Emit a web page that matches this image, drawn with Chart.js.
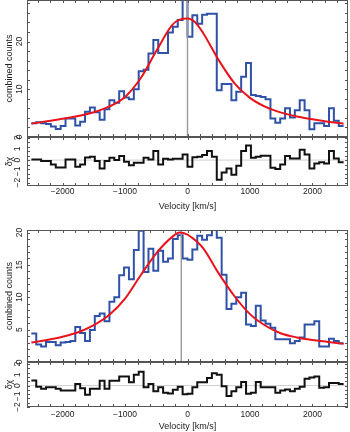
<!DOCTYPE html>
<html>
<head>
<meta charset="utf-8">
<script src="https://cdn.jsdelivr.net/npm/chart.js@4.4.1/dist/chart.umd.min.js"></script>
<style>
    html, body { margin: 0; padding: 0; background: #fff; }
    #wrap { position: relative; width: 350px; height: 432px; overflow: hidden; }
    canvas { position: absolute; left: 0; }
</style>
</head>
<body>
<div id="wrap">
    <canvas id="topMain" width="350" height="145" style="top:0px"></canvas>
    <canvas id="topResid" width="350" height="82" style="top:130px"></canvas>
    <canvas id="bottomMain" width="350" height="143" style="top:226px"></canvas>
    <canvas id="bottomResid" width="350" height="77" style="top:355px"></canvas>
</div>
<script>
// histogram bins: 64 bins from -2500 km/s
const binStart = -2500;
const binWidth = 78.125;
const velMin = -2570;
const velMax = 2570;

const topCounts = [
    2.9, 3.1, 2.9, 2.7, 2.2, 1.7, 2.3, 3.9,
    3.9, 2.4, 3.2, 5.3, 6.2, 5.2, 3.6, 5.8,
    7.7, 7.2, 9.6, 8.3, 7.9, 10.0, 13.8, 14.1,
    17.5, 20.3, 17.6, 17.6, 21.9, 23.1, 24.5, 31.0,
    21.0, 25.5, 23.7, 25.6, 25.8, 25.8, 9.8, 11.1,
    11.1, 7.7, 9.5, 12.6, 15.5, 8.8, 8.6, 8.4,
    7.9, 3.9, 3.0, 3.9, 6.0, 4.1, 5.6, 7.7,
    5.6, 1.6, 2.9, 2.9, 2.3, 6.0, 3.4, 2.3
];
const topResid = [
    0.06, 0.06, -0.09, -0.09, -0.39, -0.65, -0.65, 0.06,
    0.06, -0.6, -0.39, 0.24, 0.3, -0.09, -0.74, -0.09,
    0.21, 0.0, 0.36, -0.15, -0.45, -0.24, -0.24, 0.21,
    0.06, 0.8, -0.39, 0.12, 0.06, 0.12, 0.12, 0.5,
    -0.6, 0.25, 0.3, 0.45, 0.8, 0.3, -1.75, -1.1,
    -0.75, -1.3, -0.5, 0.8, 1.3, 0.21, 0.3, 0.39,
    0.39, -0.68, -0.8, -0.39, 0.36, 0.15, 0.15, 0.92,
    0.5, -0.74, -0.3, -0.2, -0.3, 0.8, 0.15, -0.2
];
const bottomCounts = [
    4.4, 2.7, 2.4, 3.1, 3.1, 2.6, 3.0, 3.1,
    3.25, 5.4, 4.5, 3.25, 4.95, 7.1, 7.5, 6.3,
    9.3, 10.0, 13.4, 14.6, 12.8, 17.3, 20.3, 13.9,
    17.5, 14.1, 17.2, 15.5, 16.0, 19.0, 19.6, 16.0,
    15.8, 17.4, 19.5, 18.9, 19.6, 21.0, 19.2, 13.5,
    8.2, 9.0, 10.0, 10.7, 5.8, 5.55, 8.7, 6.4,
    5.9, 5.3, 3.5, 3.5, 3.5, 2.9, 3.25, 3.8,
    5.8, 5.8, 6.3, 2.4, 2.4, 3.6, 3.25, 2.9
];
const bottomResid = [
    0.48, -0.1, -0.3, -0.15, -0.15, -0.3, -0.45, -0.45,
    -0.45, 0.15, -0.24, -0.85, -0.3, -0.3, 0.45, -0.3,
    0.45, 0.45, 0.85, 0.85, 0.3, 1.0, 1.3, -0.15,
    0.15, -0.52, -0.15, -0.67, -0.73, -0.4, -0.12, -0.82,
    -0.76, -0.15, 0.3, 0.3, 0.7, 1.15, 1.0, -0.06,
    -0.97, -0.52, -0.15, 0.33, -0.76, -0.67, 0.33, -0.15,
    -0.15, -0.15, -0.67, -0.45, -0.36, -0.52, -0.3, -0.12,
    0.64, 0.76, 0.85, -0.21, -0.15, 0.24, 0.24, 0.15
];

const modelVel = [-2500, -2250, -2000, -1750, -1500, -1250, -1000, -750, -500, -250, -125, 0,
                  125, 250, 500, 750, 1000, 1250, 1500, 1750, 2000, 2250, 2500];
const topModel = [2.8, 3.3, 3.8, 4.4, 5.2, 6.4, 8.4, 12.3, 18.0, 23.4, 24.6, 24.8,
                  24.0, 21.8, 16.1, 11.3, 8.2, 6.3, 5.1, 4.3, 3.7, 3.2, 2.8];
const bottomModel = [3.0, 3.4, 3.9, 4.6, 5.7, 7.3, 9.8, 13.4, 16.8, 19.3, 20.0, 19.7,
                     18.8, 17.6, 13.7, 10.2, 7.4, 5.6, 4.4, 3.8, 3.4, 3.1, 2.8];

const topCentre = 0;
const bottomCentre = -100;

// ticks
const velTicks = [-2000, -1000, 0, 1000, 2000];
const velMinor = [-2400, -2200, -2000, -1800, -1600, -1400, -1200, -1000, -800, -600, -400, -200, 0,
                  200, 400, 600, 800, 1000, 1200, 1400, 1600, 1800, 2000, 2200, 2400];
const topCountTicks = [0, 10, 20];
const topCountMinor = [0, 2, 4, 6, 8, 10, 12, 14, 16, 18, 20, 22, 24, 26, 28];
const bottomCountTicks = [0, 5, 10, 15, 20];
const bottomCountMinor = [0, 1, 2, 3, 4, 5, 6, 7, 8, 9, 10, 11, 12, 13, 14, 15, 16, 17, 18, 19, 20];
const residTicks = [-2, -1, 0, 1, 2];
const residMinor = [-2, -1.6, -1.2, -0.8, -0.4, 0, 0.4, 0.8, 1.2, 1.6, 2];

const corAzul = '#2f52a6';
const corVermelha = '#e8141c';
const fonte = '"Liberation Sans", Arial, sans-serif';

Chart.defaults.font.family = fonte;
Chart.defaults.color = '#222';

function minus(v) {
    return String(v).replace('-', '\u2212');
}

// box with inward ticks on all sides + rotated y labels (R style)
const frameTicks = {
    id: 'frameTicks',
    afterDatasetsDraw(chart, args, opts) {
        const { ctx, chartArea: a } = chart;
        const x = chart.scales.x;
        const y = chart.scales.y;
        ctx.save();
        ctx.strokeStyle = '#555';
        ctx.lineWidth = 1;
        ctx.beginPath();
        opts.xMinor.forEach(v => {
            const px = Math.round(x.getPixelForValue(v)) + 0.5;
            ctx.moveTo(px, a.top);
            ctx.lineTo(px, a.top + 3);
            ctx.moveTo(px, a.bottom);
            ctx.lineTo(px, a.bottom - 3);
        });
        opts.yMinor.forEach(v => {
            const py = Math.round(y.getPixelForValue(v)) + 0.5;
            ctx.moveTo(a.left, py);
            ctx.lineTo(a.left + 3, py);
            ctx.moveTo(a.right, py);
            ctx.lineTo(a.right - 3, py);
        });
        ctx.stroke();
        ctx.strokeRect(Math.round(a.left) + 0.5, Math.round(a.top) + 0.5,
                       Math.round(a.width) - 1, Math.round(a.height) - 1);

        ctx.fillStyle = '#222';
        ctx.font = '8.5px ' + fonte;
        ctx.textAlign = 'center';
        ctx.textBaseline = 'middle';
        opts.yLabels.forEach(v => {
            ctx.save();
            ctx.translate(opts.labelX, y.getPixelForValue(v));
            ctx.rotate(-Math.PI / 2);
            ctx.fillText(minus(v), 0, 0);
            ctx.restore();
        });
        ctx.restore();
    }
};

function stepPoints(values) {
    const pts = values.map((v, i) => ({ x: binStart + i * binWidth, y: v }));
    pts.push({ x: binStart + values.length * binWidth, y: values[values.length - 1] });
    return pts;
}

function yTitle(text) {
    return { display: true, text: text, font: { size: 9 }, padding: { top: 4.6, bottom: 0 } };
}

function criarPainel(id, counts, model, centre, yMax, yLabels, yMinor, padTop, padBottom) {
    return new Chart(document.getElementById(id), {
        type: 'line',
        data: {
            datasets: [
                {
                    data: model.map((v, i) => ({ x: modelVel[i], y: v })),
                    borderColor: corVermelha,
                    borderWidth: 2,
                    pointRadius: 0,
                    cubicInterpolationMode: 'monotone'
                },
                {
                    data: [{ x: centre, y: 0 }, { x: centre, y: yMax }],
                    borderColor: '#9a9a9a',
                    borderWidth: 1.4,
                    pointRadius: 0
                },
                {
                    data: stepPoints(counts),
                    borderColor: corAzul,
                    borderWidth: 2,
                    pointRadius: 0,
                    stepped: true
                }
            ]
        },
        options: {
            responsive: false,
            animation: false,
            devicePixelRatio: 1,
            layout: { padding: { left: 0, right: 2, top: padTop, bottom: padBottom } },
            plugins: {
                legend: { display: false },
                tooltip: { enabled: false },
                frameTicks: { xMinor: velMinor, yMinor: yMinor, yLabels: yLabels, labelX: 20 }
            },
            scales: {
                x: { type: 'linear', min: velMin, max: velMax, display: false },
                y: {
                    type: 'linear', min: 0, max: yMax,
                    grid: { display: false, drawTicks: false },
                    border: { display: false },
                    ticks: { display: false },
                    title: yTitle('combined counts'),
                    afterFit: s => { s.width = 27; }
                }
            }
        },
        plugins: [frameTicks]
    });
}

function criarResiduo(id, resid, yMin, yMax, padTop, labelPad, axisHeight) {
    return new Chart(document.getElementById(id), {
        type: 'line',
        data: {
            datasets: [
                {
                    data: stepPoints(resid),
                    borderColor: '#111',
                    borderWidth: 2,
                    pointRadius: 0,
                    stepped: true
                },
                {
                    data: [{ x: velMin, y: 0 }, { x: velMax, y: 0 }],
                    borderColor: '#cfcfcf',
                    borderWidth: 1,
                    pointRadius: 0
                }
            ]
        },
        options: {
            responsive: false,
            animation: false,
            devicePixelRatio: 1,
            layout: { padding: { left: 0, right: 2, top: padTop, bottom: 0 } },
            plugins: {
                legend: { display: false },
                tooltip: { enabled: false },
                frameTicks: { xMinor: velMinor, yMinor: residMinor, yLabels: residTicks, labelX: 18 }
            },
            scales: {
                x: {
                    type: 'linear', min: velMin, max: velMax,
                    grid: { display: false, drawTicks: false },
                    border: { display: false },
                    afterBuildTicks: s => { s.ticks = velTicks.map(v => ({ value: v })); },
                    ticks: {
                        font: { size: 8.5 },
                        padding: labelPad,
                        maxRotation: 0,
                        autoSkip: false,
                        callback: v => minus(v)
                    },
                    title: { display: true, text: 'Velocity [km/s]', font: { size: 9 }, padding: 0 },
                    afterFit: s => { s.height = axisHeight; }
                },
                y: {
                    type: 'linear', min: yMin, max: yMax,
                    grid: { display: false, drawTicks: false },
                    border: { display: false },
                    ticks: { display: false },
                    title: yTitle('δχ'),
                    afterFit: s => { s.width = 27; }
                }
            }
        },
        plugins: [frameTicks]
    });
}

criarPainel('topMain', topCounts, topModel, topCentre, 28.7, topCountTicks, topCountMinor, 0, 8);
criarResiduo('topResid', topResid, -2.3, 2.05, 7, 1, 26);
criarPainel('bottomMain', bottomCounts, bottomModel, bottomCentre, 20.4, bottomCountTicks, bottomCountMinor, 4, 7);
criarResiduo('bottomResid', bottomResid, -2.0, 2.2, 7, 3, 25);
</script>
</body>
</html>
